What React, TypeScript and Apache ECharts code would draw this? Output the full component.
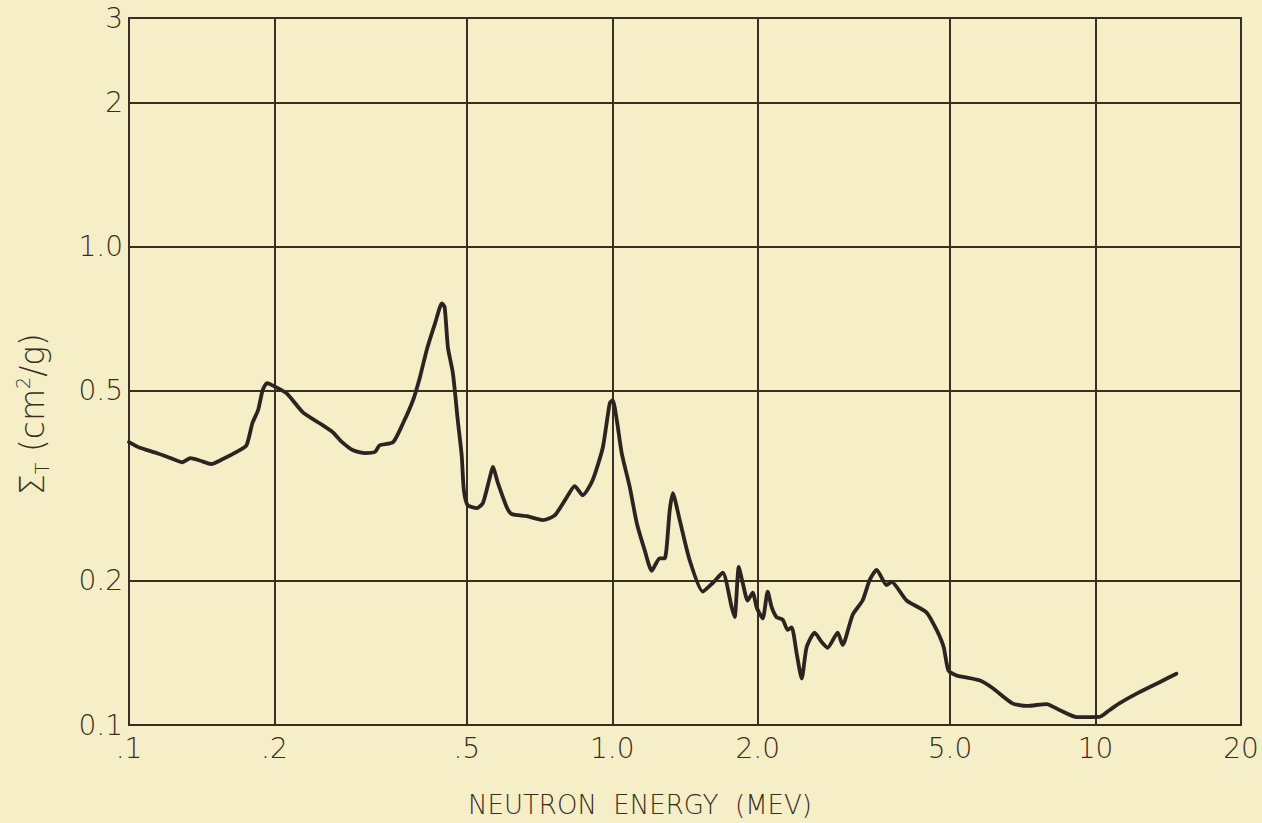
import React, { useEffect, useRef } from "react";
import * as echarts from "echarts";

// Neutron energy (MeV)
const energy = [
  0.100, 0.105, 0.114, 0.122, 0.129, 0.134, 0.140, 0.148, 0.156, 0.167,
  0.175, 0.180, 0.185, 0.189, 0.193, 0.200, 0.212, 0.229, 0.248, 0.264,
  0.276, 0.291, 0.308, 0.323, 0.330, 0.352, 0.369, 0.387, 0.400, 0.413,
  0.430, 0.444, 0.450, 0.457, 0.468, 0.479, 0.488, 0.493, 0.502, 0.525,
  0.540, 0.558, 0.566, 0.580, 0.605, 0.619, 0.666, 0.718, 0.760, 0.805,
  0.836, 0.869, 0.911, 0.956, 0.988, 1.002, 1.022, 1.046, 1.087, 1.124,
  1.167, 1.207, 1.253, 1.284, 1.315, 1.334, 1.379, 1.446, 1.539, 1.614,
  1.693, 1.767, 1.792, 1.827, 1.862, 1.906, 1.953, 1.990, 2.048, 2.097,
  2.138, 2.188, 2.253, 2.307, 2.351, 2.408, 2.466, 2.525, 2.623, 2.712,
  2.791, 2.927, 2.997, 3.144, 3.296, 3.41, 3.524, 3.696, 3.784, 4.064,
  4.467, 4.69, 4.85, 4.96, 5.15, 5.75, 6.12, 6.73, 7.20, 7.92,
  8.42, 9.14, 10.2, 10.7, 11.2, 12.3, 13.6, 14.7,
];

// Total cross-section Σ_T (cm²/g)
const sigma = [
  0.390, 0.380, 0.370, 0.361, 0.354, 0.361, 0.357, 0.351, 0.359, 0.372,
  0.384, 0.427, 0.455, 0.500, 0.518, 0.510, 0.493, 0.450, 0.427, 0.409,
  0.390, 0.375, 0.370, 0.372, 0.384, 0.390, 0.427, 0.477, 0.533, 0.607,
  0.691, 0.760, 0.746, 0.615, 0.543, 0.433, 0.366, 0.310, 0.288, 0.284,
  0.291, 0.329, 0.346, 0.320, 0.285, 0.276, 0.273, 0.268, 0.274, 0.299,
  0.3155, 0.302, 0.325, 0.380, 0.470, 0.477, 0.433, 0.370, 0.314, 0.264,
  0.232, 0.210, 0.223, 0.223, 0.281, 0.305, 0.268, 0.221, 0.190, 0.198,
  0.208, 0.176, 0.168, 0.214, 0.198, 0.182, 0.189, 0.176, 0.167, 0.190,
  0.176, 0.168, 0.166, 0.158, 0.160, 0.141, 0.125, 0.1455, 0.156, 0.149,
  0.145, 0.156, 0.147, 0.170, 0.182, 0.201, 0.211, 0.196, 0.199, 0.182,
  0.172, 0.158, 0.1455, 0.130, 0.127, 0.124, 0.1195, 0.111, 0.1096, 0.1106,
  0.1075, 0.1039, 0.104, 0.1075, 0.111, 0.117, 0.123, 0.128,
];

const xTicks = [0.1, 0.2, 0.5, 1, 2, 5, 10, 20];
const xTickLabels = [".1", ".2", ".5", "1.0", "2.0", "5.0", "10", "20"];
const yTicks = [0.1, 0.2, 0.5, 1, 2, 3];
const yTickLabels = ["0.1", "0.2", "0.5", "1.0", "2", "3"];

const xTitle = "NEUTRON  ENERGY  (MEV)";

const BG = "#f5eec6";
const INK = "#3a2d21";
const CURVE = "#2b2420";
const FONT = "'DejaVu Sans', 'Open Sans', sans-serif";

function labelFor(values: number[], labels: string[], v: number): string {
  for (let i = 0; i < values.length; i++) {
    if (Math.abs(values[i] - v) / values[i] < 1e-6) return labels[i];
  }
  return "";
}

export default function App() {
  const ref = useRef<HTMLDivElement>(null);

  useEffect(() => {
    if (!ref.current) return;
    const chart = echarts.init(ref.current, undefined, { renderer: "svg" });
    const data = energy.map((e, i) => [e, sigma[i]]);

    chart.setOption({
      animation: false,
      backgroundColor: BG,
      grid: {
        left: 129,
        right: 21,
        top: 18,
        bottom: 98,
        show: true,
        borderColor: INK,
        borderWidth: 2,
        backgroundColor: "transparent",
      },
      xAxis: {
        type: "log",
        logBase: 10,
        min: 0.1,
        max: 20,
        axisLine: { show: true, lineStyle: { color: INK, width: 2 } },
        axisTick: { show: false, customValues: xTicks },
        minorTick: { show: false },
        axisLabel: {
          customValues: xTicks,
          formatter: (v: number) => labelFor(xTicks, xTickLabels, v),
          color: INK,
          fontFamily: FONT,
          fontWeight: 200,
          fontSize: 28,
          margin: 9,
        },
        splitLine: { show: true, lineStyle: { color: INK, width: 2 } },
      },
      yAxis: {
        type: "log",
        logBase: 10,
        min: 0.1,
        max: 3,
        axisLine: { show: true, lineStyle: { color: INK, width: 2 } },
        axisTick: { show: false, customValues: yTicks },
        minorTick: { show: false },
        axisLabel: {
          customValues: yTicks,
          formatter: (v: number) => labelFor(yTicks, yTickLabels, v),
          color: INK,
          fontFamily: FONT,
          fontWeight: 200,
          fontSize: 28,
          margin: 6,
        },
        splitLine: { show: true, lineStyle: { color: INK, width: 2 } },
      },
      graphic: [
        {
          type: "text",
          x: 640,
          y: 805,
          style: {
            text: xTitle,
            fill: INK,
            align: "center",
            verticalAlign: "middle",
            font: `200 26px ${FONT}`,
          },
        },
        {
          type: "text",
          x: 32,
          y: 414,
          rotation: Math.PI / 2,
          style: {
            text: "{b|Σ}{sub|T}{b| (cm}{sup|2}{b|/g)}",
            align: "center",
            verticalAlign: "middle",
            fill: INK,
            rich: {
              b: { fontSize: 33, fontFamily: FONT, fontWeight: 200, lineHeight: 38, fill: INK },
              sub: { fontSize: 19, fontFamily: FONT, fontWeight: 200, lineHeight: 17, verticalAlign: "bottom", fill: INK },
              sup: { fontSize: 19, fontFamily: FONT, fontWeight: 200, lineHeight: 19, verticalAlign: "top", fill: INK },
            },
          },
        },
      ],
      series: [
        {
          type: "line",
          data,
          showSymbol: false,
          symbol: "none",
          smooth: 0.2,
          lineStyle: { color: CURVE, width: 3.8, join: "round", cap: "round" },
        },
      ],
    });

    return () => chart.dispose();
  }, []);

  return (
    <div
      ref={ref}
      style={{ position: "fixed", left: 0, top: 0, width: 1262, height: 823, background: BG }}
    />
  );
}
